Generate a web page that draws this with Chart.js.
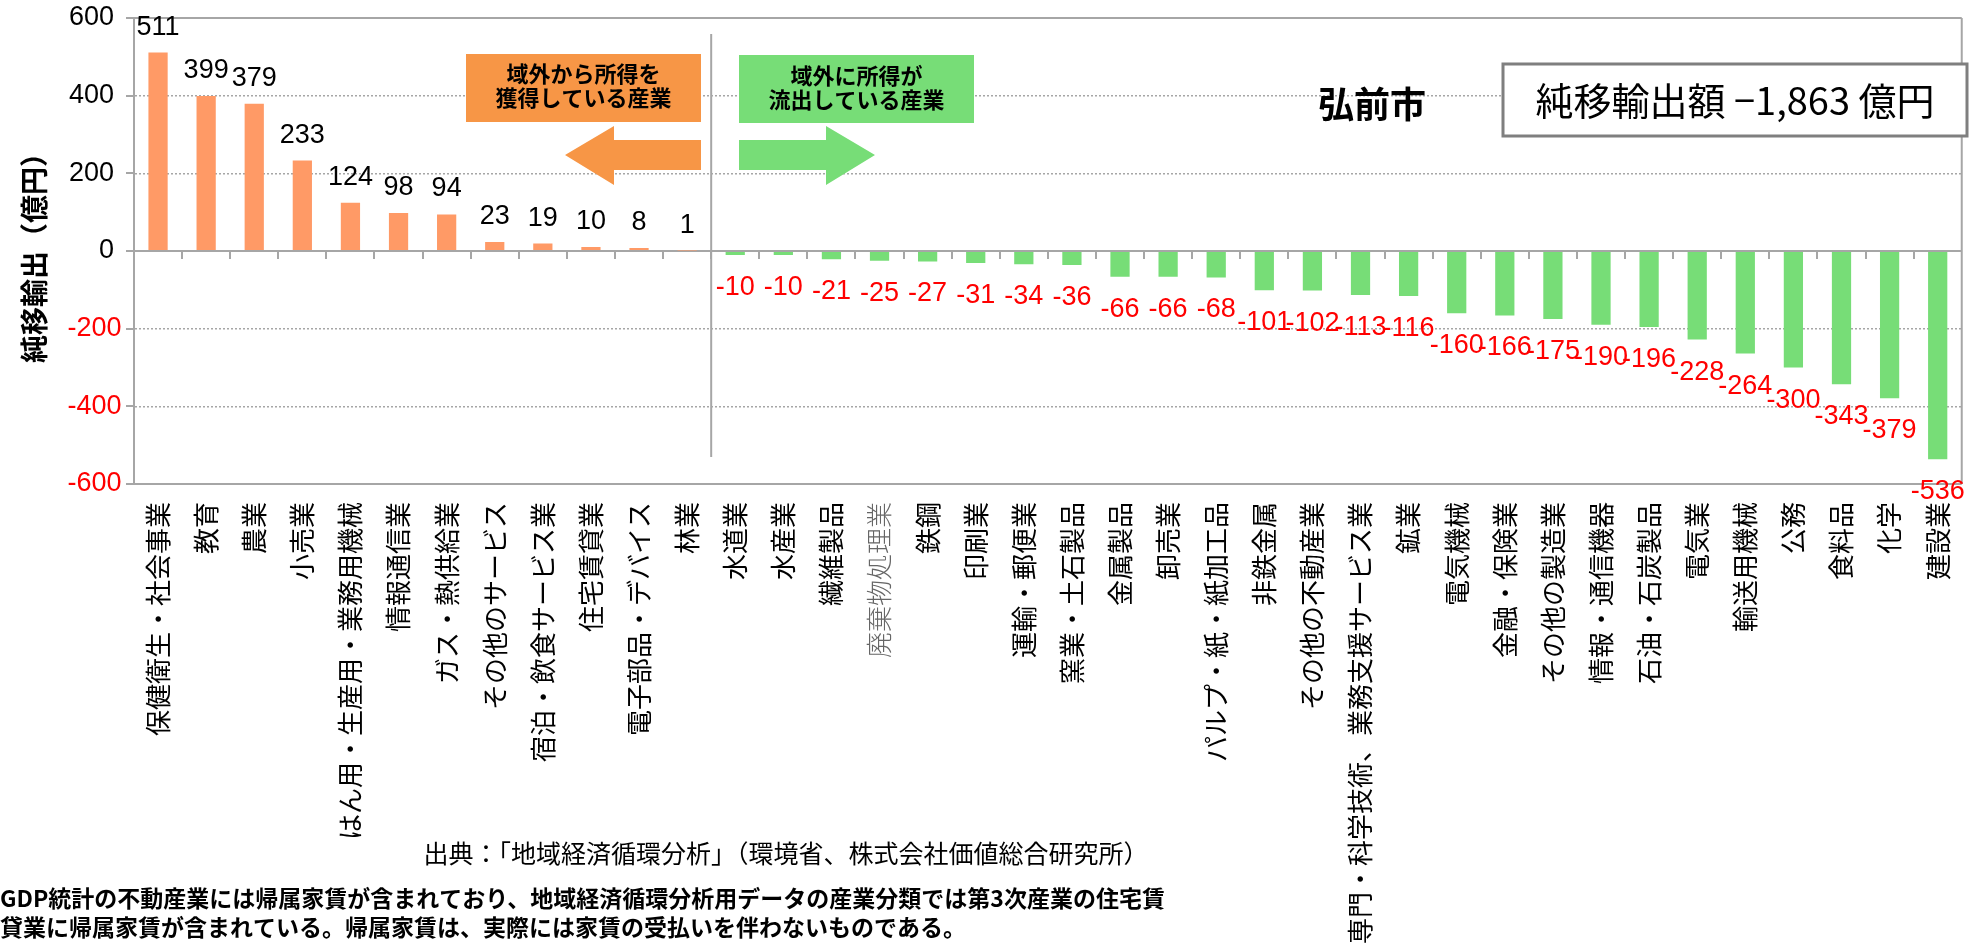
<!DOCTYPE html>
<html lang="ja">
<head>
<meta charset="utf-8">
<title>弘前市 純移輸出額</title>
<script src="https://cdn.jsdelivr.net/npm/chart.js@4.4.1/dist/chart.umd.min.js"></script>
<style>
  html, body { margin: 0; padding: 0; background: #fff; overflow: hidden; }
  #wrap { position: relative; width: 1987px; height: 943px; }
</style>
</head>
<body>
<div id="wrap"><canvas id="netChart"></canvas></div>
<script>
/* data */
const industries = [
    '保健衛生・社会事業', '教育', '農業', '小売業', 'はん用・生産用・業務用機械', '情報通信業',
    'ガス・熱供給業', 'その他のサービス', '宿泊・飲食サービス業', '住宅賃貸業', '電子部品・デバイス', '林業',
    '水道業', '水産業', '繊維製品', '廃棄物処理業', '鉄鋼', '印刷業', '運輸・郵便業', '窯業・土石製品',
    '金属製品', '卸売業', 'パルプ・紙・紙加工品', '非鉄金属', 'その他の不動産業',
    '専門・科学技術、業務支援サービス業', '鉱業', '電気機械', '金融・保険業', 'その他の製造業',
    '情報・通信機器', '石油・石炭製品', '電気業', '輸送用機械', '公務', '食料品', '化学', '建設業'
];
const netExports = [
    511, 399, 379, 233, 124, 98, 94, 23, 19, 10, 8, 1,
    -10, -10, -21, -25, -27, -31, -34, -36, -66, -66, -68, -101, -102,
    -113, -116, -160, -166, -175, -190, -196, -228, -264, -300, -343, -379, -536
];
const yTicks = [-600, -400, -200, 0, 200, 400, 600];

const cityName = '弘前市';
const totalText = '純移輸出額 −1,863 億円';
const inflowText = ['域外から所得を', '獲得している産業'];
const outflowText = ['域外に所得が', '流出している産業'];
const sourceText = '出典：「地域経済循環分析」（環境省、株式会社価値総合研究所）';
const noteLines = [
    'GDP統計の不動産業には帰属家賃が含まれており、地域経済循環分析用データの産業分類では第3次産業の住宅賃',
    '貸業に帰属家賃が含まれている。帰属家賃は、実際には家賃の受払いを伴わないものである。'
];

const ORANGE = '#FF9A66';
const GREEN = '#77DD77';
const GRID = '#A6A6A6';
const JP = '"Noto Sans CJK JP", "Noto Sans", sans-serif';
const NUM = '"Liberation Sans", Arial, sans-serif';

/* frame, separator, small tick marks */
const framePlugin = {
    id: 'frame',
    afterDatasetsDraw(chart) {
        const ctx = chart.ctx;
        const area = chart.chartArea;
        const x = chart.scales.x;
        const y = chart.scales.y;
        const y0 = y.getPixelForValue(0);
        const catW = (area.right - area.left) / industries.length;
        ctx.save();
        ctx.strokeStyle = GRID;
        ctx.lineWidth = 2;
        // right border
        ctx.beginPath();
        ctx.moveTo(area.right, area.top);
        ctx.lineTo(area.right, area.bottom);
        ctx.stroke();
        // y tick marks (short, left of the axis)
        yTicks.forEach(v => {
            const ty = Math.round(y.getPixelForValue(v));
            ctx.beginPath();
            ctx.moveTo(area.left - 8, ty);
            ctx.lineTo(area.left, ty);
            ctx.stroke();
        });
        // tick marks between categories
        for (let i = 1; i < industries.length; i++) {
            const tx = Math.round(area.left + i * catW);
            ctx.beginPath();
            ctx.moveTo(tx, y0);
            ctx.lineTo(tx, y0 + 8);
            ctx.stroke();
        }
        // separator between positive and negative groups
        const firstNeg = netExports.findIndex(v => v < 0);
        const sx = (x.getPixelForValue(firstNeg - 1) + x.getPixelForValue(firstNeg)) / 2;
        ctx.beginPath();
        ctx.moveTo(sx, area.top + 16);
        ctx.lineTo(sx, area.bottom - 27);
        ctx.stroke();
        ctx.restore();
    }
};

/* value labels above / below each bar */
const valueLabelPlugin = {
    id: 'valueLabels',
    afterDatasetsDraw(chart) {
        const ctx = chart.ctx;
        const meta = chart.getDatasetMeta(0);
        ctx.save();
        ctx.font = '27px ' + NUM;
        ctx.textAlign = 'center';
        ctx.textBaseline = 'alphabetic';
        meta.data.forEach((bar, i) => {
            const v = netExports[i];
            if (v >= 0) {
                ctx.fillStyle = '#000';
                ctx.fillText(String(v), bar.x, bar.y - 18);
            } else {
                ctx.fillStyle = '#FF0000';
                ctx.fillText(String(v), bar.x, bar.y + 40);
            }
        });
        ctx.restore();
    }
};

/* boxes, arrows and notes */
function arrow(ctx, pts, color) {
    ctx.fillStyle = color;
    ctx.beginPath();
    ctx.moveTo(pts[0][0], pts[0][1]);
    for (let i = 1; i < pts.length; i++) ctx.lineTo(pts[i][0], pts[i][1]);
    ctx.closePath();
    ctx.fill();
}

const notePlugin = {
    id: 'notes',
    afterDraw(chart) {
        const ctx = chart.ctx;
        ctx.save();
        ctx.textAlign = 'center';
        ctx.textBaseline = 'middle';

        // orange box + left arrow
        ctx.fillStyle = '#F79646';
        ctx.fillRect(466, 54, 235, 68);
        ctx.fillStyle = '#000';
        ctx.font = 'bold 22px ' + JP;
        ctx.fillText(inflowText[0], 583.5, 74);
        ctx.fillText(inflowText[1], 583.5, 98);
        arrow(ctx, [[701, 140], [614, 140], [614, 126], [565, 155], [614, 185], [614, 170], [701, 170]], '#F79646');

        // green box + right arrow
        ctx.fillStyle = GREEN;
        ctx.fillRect(739, 55, 235, 68);
        ctx.fillStyle = '#000';
        ctx.fillText(outflowText[0], 856.5, 76);
        ctx.fillText(outflowText[1], 856.5, 100);
        arrow(ctx, [[739, 140], [826, 140], [826, 126], [875, 155], [826, 185], [826, 170], [739, 170]], GREEN);

        // city name
        ctx.fillStyle = '#000';
        ctx.font = 'bold 36px ' + JP;
        ctx.fillText(cityName, 1372, 104);

        // total box
        ctx.fillStyle = '#fff';
        ctx.fillRect(1503, 64, 464, 72);
        ctx.strokeStyle = '#7F7F7F';
        ctx.lineWidth = 3;
        ctx.strokeRect(1503, 64, 464, 72);
        ctx.fillStyle = '#000';
        ctx.font = '38px ' + JP;
        ctx.fillText(totalText, 1735, 101);

        // source
        ctx.font = '25px ' + JP;
        ctx.fillText(sourceText, 786, 853);

        // footnote
        ctx.textAlign = 'left';
        ctx.font = 'bold 23px ' + JP;
        ctx.fillText(noteLines[0], 0, 898);
        ctx.fillText(noteLines[1], 0, 927);
        ctx.restore();
    }
};

/* The graph */
const wasteIdx = industries.indexOf('廃棄物処理業');
const chartCtx = document.getElementById('netChart').getContext('2d');
const netChart = new Chart(chartCtx, {
    type: 'bar',
    data: {
        labels: industries,
        datasets: [{
            data: netExports,
            backgroundColor: netExports.map(v => v >= 0 ? ORANGE : GREEN),
            borderWidth: 0,
            categoryPercentage: 1,
            barPercentage: 0.4
        }]
    },
    options: {
        responsive: true,
        maintainAspectRatio: false,
        animation: false,
        layout: { padding: { top: 18, right: 8, left: 0, bottom: 0 } },
        plugins: {
            legend: { display: false },
            tooltip: { enabled: false }
        },
        scales: {
            x: {
                grid: { display: false, drawTicks: false },
                border: { display: false },
                ticks: {
                    autoSkip: false,
                    maxRotation: 90,
                    minRotation: 90,
                    padding: 18,
                    color: c => c.index === wasteIdx ? '#666' : '#000',
                    font: c => c.index === wasteIdx
                        ? { family: JP, size: 26, weight: '300' }
                        : { family: JP, size: 26 }
                },
                afterFit: scale => { scale.height = 459; }
            },
            y: {
                min: -600,
                max: 600,
                afterBuildTicks: scale => { scale.ticks = yTicks.map(v => ({ value: v })); },
                grid: {
                    color: GRID,
                    lineWidth: c => (c.tick && (c.tick.value === 0 || Math.abs(c.tick.value) === 600)) ? 2 : 1.5,
                    // invisible tick keeps the labels off the axis; visible marks are drawn by framePlugin
                    tickLength: 12.5,
                    tickColor: 'rgba(0,0,0,0)'
                },
                border: {
                    color: GRID,
                    width: 2,
                    dash: c => (c.tick && c.tick.value !== 0 && Math.abs(c.tick.value) !== 600) ? [2, 2] : []
                },
                ticks: {
                    padding: 0,
                    font: { family: NUM, size: 27 },
                    color: c => c.tick.value < 0 ? '#FF0000' : '#000',
                    callback: v => v < 0 ? String(v) : v + ' '
                },
                title: {
                    display: true,
                    text: '純移輸出（億円）',
                    color: '#000',
                    font: { family: JP, size: 28, weight: 'bold' },
                    padding: { top: 18, bottom: 0 }
                },
                afterFit: scale => { scale.width = 134; }
            }
        }
    },
    plugins: [framePlugin, valueLabelPlugin, notePlugin]
});
</script>
</body>
</html>
